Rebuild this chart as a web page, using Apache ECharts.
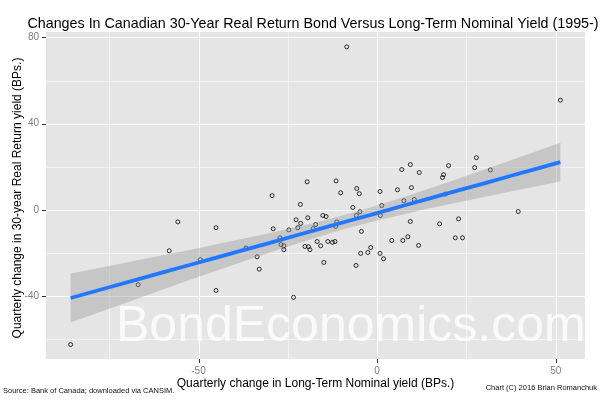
<!DOCTYPE html>
<html><head><meta charset="utf-8">
<script src="https://cdn.jsdelivr.net/npm/echarts@6/dist/echarts.min.js"></script>
<style>html,body{margin:0;padding:0;background:#fff}#c{width:600px;height:400px}</style>
</head><body><div id="c"></div>
<script>
// Quarterly change in long-term nominal yield (BPs) -- x
const nominalChg = [-85.8,-66.9,-58.2,-55.8,-49.5,-45.1,-45.1,-36.7,-33.6,-33.0,-29.4,-29.1,-27.2,-26.9,-26.1,-26.1,-24.7,-23.4,-22.7,-22.2,-21.5,-21.4,-20.2,-19.2,-18.8,-19.6,-19.4,-17.9,-17.2,-16.8,-15.8,-15.2,-14.3,-14.9,-13.8,-12.5,-11.8,-11.5,-11.3,-11.6,-10.2,-8.5,-6.8,-5.7,-5.0,-4.8,-5.8,-4.4,-4.6,-5.9,-2.6,-1.8,0.8,1.3,0.9,0.8,1.8,4.1,5.7,6.9,7.2,7.5,8.6,9.3,9.6,10.4,9.3,11.8,11.6,17.5,18.3,18.6,19.1,20.0,21.9,23.9,22.8,27.3,27.8,31.7,39.5,51.3];
// Quarterly change in 30-year real return yield (BPs) -- y
const realChg = [-62.5,-34.7,-19.0,-5.6,-23.1,-8.3,-37.4,-17.7,-21.8,-27.5,6.6,-8.8,-13.0,-16.1,-16.7,-18.5,-9.3,-40.6,-4.6,-8.3,2.5,-6.3,-17.0,-17.1,-18.5,13.0,-3.7,-8.7,-6.8,-14.7,-16.7,-2.6,-3.1,-24.4,-14.7,-15.1,-14.7,13.4,-5.6,-7.7,7.9,75.6,1.1,9.9,7.5,-0.9,-2.6,-10.0,-20.2,-25.8,-19.8,-17.5,8.5,2.0,-2.6,-20.2,-22.7,-14.2,9.3,18.7,-14.2,4.2,-12.5,21.0,10.3,4.8,-5.4,17.3,-16.5,-6.5,15.0,16.3,7.3,20.5,-13.0,-13.0,-4.2,19.6,24.2,18.5,-0.8,50.9];
// Linear fit with confidence band
const fitX  = [-85.8,-75,-67.5,-60,-52.5,-45,-37.5,-30,-22.5,-15,-8.4,0,7.5,15,22.5,30,37.5,45,51.3];
const fitY  = [-40.9,-35.9,-32.5,-29.0,-25.6,-22.2,-18.7,-15.3,-11.8,-8.4,-5.3,-1.5,2.0,5.4,8.9,12.3,15.8,19.2,22.1];
const fitLo = [-52.3,-45.9,-41.5,-37.0,-32.6,-28.3,-24.0,-19.8,-15.7,-11.8,-8.6,-5.0,-2.0,0.8,3.4,6.0,8.5,11.0,13.1];
const fitHi = [-29.5,-26.0,-23.5,-21.1,-18.6,-16.0,-13.4,-10.8,-8.0,-4.9,-2.0,2.0,6.0,10.1,14.3,18.7,23.0,27.4,31.1];
// Axis ticks
const xMajor = [-50, 0, 50];
const xMinor = [-75, -25, 25];
const yMajor = [-40, 0, 40, 80];
const yMinor = [-60, -20, 20, 60];

const X_MIN = -92.7, X_MAX = 58.2, Y_MIN = -69.2, Y_MAX = 82.5;
const FONT = '"Liberation Sans", Arial, sans-serif';

// [value, orientation (0 = vertical, 1 = horizontal), major]
const gridData = [];
xMinor.forEach(v => gridData.push([v, 0, 0]));
yMinor.forEach(v => gridData.push([v, 1, 0]));
xMajor.forEach(v => gridData.push([v, 0, 1]));
yMajor.forEach(v => gridData.push([v, 1, 1]));

const chart = echarts.init(document.getElementById('c'), null, {renderer: 'canvas'});
chart.setOption({
  animation: false,
  backgroundColor: '#FFFFFF',
  grid: {left: 46, right: 15, top: 32, bottom: 41, show: true, backgroundColor: '#E5E5E5', borderWidth: 0},
  xAxis: {
    type: 'value', min: X_MIN, max: X_MAX,
    axisLine: {show: false, onZero: false}, splitLine: {show: false}, axisTick: {show: false},
    axisLabel: {customValues: xMajor, color: '#7F7F7F', fontSize: 10, fontFamily: FONT, margin: 7}
  },
  yAxis: {
    type: 'value', min: Y_MIN, max: Y_MAX,
    axisLine: {show: false, onZero: false}, splitLine: {show: false}, axisTick: {show: false},
    axisLabel: {customValues: yMajor, color: '#7F7F7F', fontSize: 10, fontFamily: FONT, margin: 7}
  },
  series: [
    {
      type: 'custom', z: 1, silent: true, clip: false,
      data: gridData,
      renderItem: function (params, api) {
        const v = api.value(0), orient = api.value(1), major = api.value(2);
        const children = [];
        if (orient === 0) {
          const a = api.coord([v, Y_MIN]), b = api.coord([v, Y_MAX]);
          const x = Math.round(a[0]) + 0.5;
          children.push({type: 'line', shape: {x1: x, y1: a[1], x2: x, y2: b[1]}, style: {stroke: major ? '#FFFFFF' : '#F2F2F2', lineWidth: 1}});
          if (major) children.push({type: 'line', shape: {x1: x, y1: a[1], x2: x, y2: a[1] + 4}, style: {stroke: '#333333', lineWidth: 1}});
        } else {
          const a = api.coord([X_MIN, v]), b = api.coord([X_MAX, v]);
          const y = Math.round(a[1]) + 0.5;
          children.push({type: 'line', shape: {x1: a[0], y1: y, x2: b[0], y2: y}, style: {stroke: major ? '#FFFFFF' : '#F2F2F2', lineWidth: 1}});
          if (major) children.push({type: 'line', shape: {x1: a[0] - 4, y1: y, x2: a[0], y2: y}, style: {stroke: '#333333', lineWidth: 1}});
        }
        return {type: 'group', children: children};
      }
    },
    {
      type: 'scatter', z: 2, silent: true,
      data: nominalChg.map((x, i) => [x, realChg[i]]),
      symbol: 'circle', symbolSize: 4,
      itemStyle: {color: 'rgba(0,0,0,0)', borderColor: '#000000', borderWidth: 1}
    },
    {
      type: 'custom', z: 3, silent: true,
      data: [[fitX[0], fitY[0]]],
      renderItem: function (params, api) {
        const pts = [];
        for (let i = 0; i < fitX.length; i++) pts.push(api.coord([fitX[i], fitHi[i]]));
        for (let i = fitX.length - 1; i >= 0; i--) pts.push(api.coord([fitX[i], fitLo[i]]));
        return {type: 'polygon', shape: {points: pts}, style: {fill: 'rgba(153,153,153,0.4)'}};
      }
    },
    {
      type: 'line', z: 4, silent: true,
      data: fitX.map((x, i) => [x, fitY[i]]),
      showSymbol: false, symbol: 'none',
      lineStyle: {color: '#2277FF', width: 3.8}
    }
  ],
  graphic: [
    {type: 'text', x: 313, y: 23.7, z: 10, style: {text: 'Changes In Canadian 30-Year Real Return Bond Versus Long-Term Nominal Yield (1995-)', fill: '#000', font: '14.3px ' + FONT, align: 'center', verticalAlign: 'middle'}},
    {type: 'text', x: 17.5, y: 198, rotation: Math.PI / 2, z: 10, style: {text: 'Quarterly change in 30-year Real Return yield (BPs.)', fill: '#000', font: '12px ' + FONT, align: 'center', verticalAlign: 'middle'}},
    {type: 'text', x: 315.5, y: 384, z: 10, style: {text: 'Quarterly change in Long-Term Nominal yield (BPs.)', fill: '#000', font: '12px ' + FONT, align: 'center', verticalAlign: 'middle'}},
    {type: 'text', x: 3, y: 391, z: 10, style: {text: 'Source: Bank of Canada; downloaded via CANSIM.', fill: '#111', font: '7.5px ' + FONT, align: 'left', verticalAlign: 'middle'}},
    {type: 'text', x: 597, y: 388, z: 10, style: {text: 'Chart (C) 2016 Brian Romanchuk', fill: '#111', font: '7.5px ' + FONT, align: 'right', verticalAlign: 'middle'}},
    {type: 'text', x: 116, y: 327, z: 10, style: {text: 'BondEconomics.com', fill: 'rgba(255,255,255,0.8)', font: '50px ' + FONT, align: 'left', verticalAlign: 'middle'}}
  ]
});
</script></body></html>
